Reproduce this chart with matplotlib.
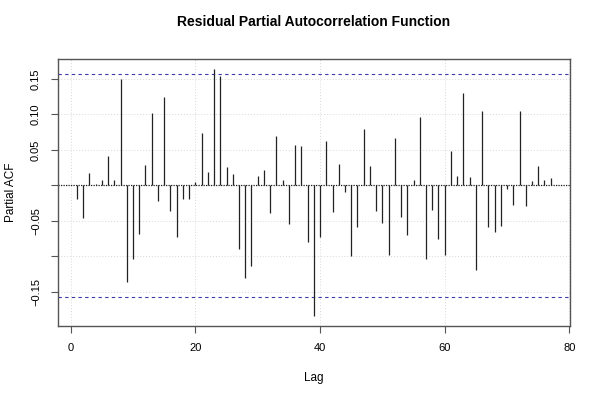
import numpy as np
import matplotlib
matplotlib.use("Agg")
import matplotlib.pyplot as plt

# partial autocorrelations of the residuals, lags 1..77
lags = np.arange(1, 78)
pacf_vals = [
    -0.019, -0.046, 0.018, 0.002, 0.008, 0.041, 0.008, 0.150, -0.136, -0.103,
    -0.068, 0.029, 0.102, -0.022, 0.124, -0.036, -0.072, -0.019, -0.019, 0.005,
    0.074, 0.019, 0.164, 0.154, 0.026, 0.016, -0.089, -0.131, -0.113, 0.013,
    0.022, -0.039, 0.069, 0.007, -0.054, 0.057, 0.055, -0.080, -0.184, -0.072,
    0.063, -0.037, 0.030, -0.009, -0.099, -0.058, 0.079, 0.027, -0.036, -0.053,
    -0.098, 0.067, -0.044, -0.070, 0.008, 0.097, -0.103, -0.035, -0.075, -0.098,
    0.048, 0.013, 0.130, 0.012, -0.119, 0.105, -0.058, -0.066, -0.057, -0.005,
    -0.027, 0.105, -0.029, 0.006, 0.028, 0.008, 0.011,
]
conf_limit = 0.157

xticks = [0, 20, 40, 60, 80]
yticks = [-0.15, -0.10, -0.05, 0.0, 0.05, 0.10, 0.15]
ytick_labels = ["\u22120.15", "", "\u22120.05", "", "0.05", "0.10", "0.15"]

plt.rcParams['font.family'] = ['Liberation Sans', 'DejaVu Sans']

fig = plt.figure(figsize=(6, 4), dpi=100)
ax = fig.add_axes([0.096, 0.185, 0.854, 0.6675])

# grid
for t in xticks:
    ax.axvline(t, color='#d8d8d8', linestyle=(0, (1, 2)), linewidth=0.7, zorder=0)
for t in yticks:
    ax.axhline(t, color='#d8d8d8', linestyle=(0, (1, 2)), linewidth=0.7, zorder=0)

ax.vlines(lags, 0, pacf_vals, color='#222222', linewidth=0.9, zorder=3)
ax.axhline(0, color='#222222', linestyle=(0, (1, 1)), linewidth=0.9, zorder=2)
for lim in (conf_limit, -conf_limit):
    ax.axhline(lim, color='#3a3aa8', linestyle=(0, (3, 3)), linewidth=0.8, zorder=2)

ax.set_xlim(-2.1, 80.1)
ax.set_ylim(-0.198, 0.178)
ax.set_xticks(xticks)
ax.set_yticks(yticks)
ax.set_yticklabels(ytick_labels, rotation=90, va='center')
ax.tick_params(labelsize=8, length=5, width=0.8, color='#555555', pad=7)
for s in ax.spines.values():
    s.set_color('#555555')
    s.set_linewidth(1.0)

ax.set_title("Residual Partial Autocorrelation Function", fontsize=10,
             fontweight='bold', pad=24)
ax.set_xlabel("Lag", fontsize=8.5, labelpad=14)
ax.set_ylabel("Partial ACF", fontsize=8.5, labelpad=10)

fig.savefig("out.png", dpi=100)
